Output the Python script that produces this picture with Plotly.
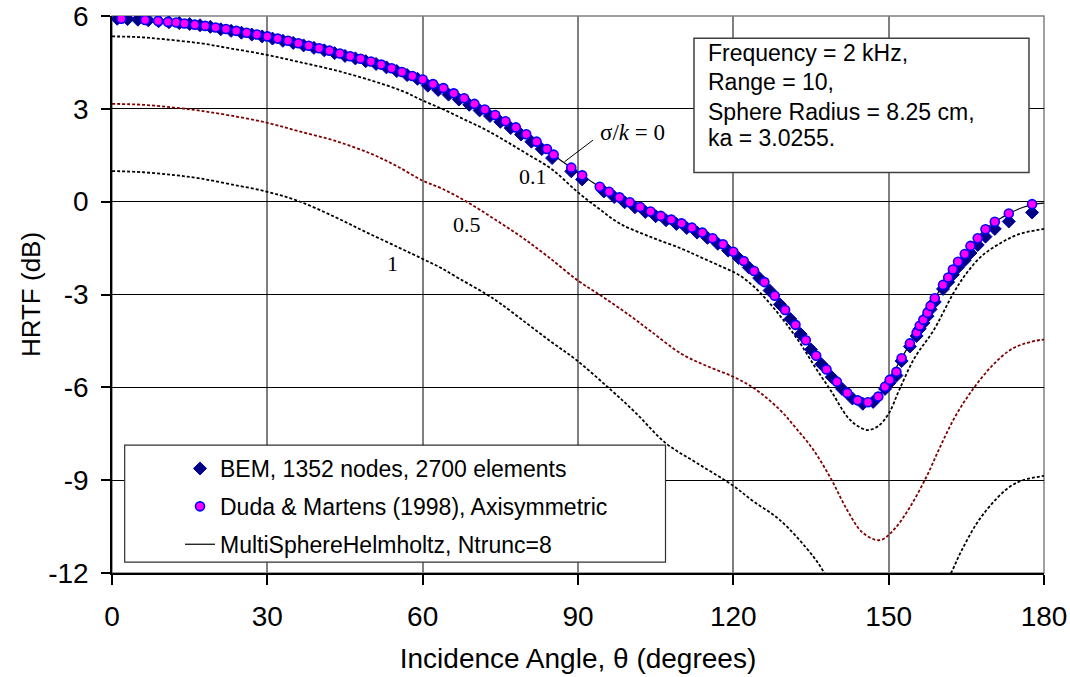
import plotly.graph_objects as go

# ---------------- data ----------------
# MultiSphereHelmholtz, Ntrunc=8  (sigma/k = 0), solid black line
msh_theta = list(range(0, 181, 2))
msh_hrtf = [5.92, 5.91, 5.89, 5.87, 5.85, 5.82, 5.79, 5.76, 5.72, 5.68,
            5.63, 5.58, 5.52, 5.46, 5.40, 5.34, 5.27, 5.20, 5.12, 5.04,
            4.96, 4.88, 4.79, 4.70, 4.62, 4.53, 4.43, 4.31, 4.19, 4.06,
            3.95, 3.80, 3.67, 3.50, 3.34, 3.16, 2.98, 2.80, 2.60, 2.40,
            2.18, 1.94, 1.70, 1.42, 1.18, 0.93, 0.72, 0.50, 0.32, 0.14,
            -0.02, -0.17, -0.32, -0.46, -0.58, -0.70, -0.84, -1.00, -1.18, -1.38,
            -1.62, -1.92, -2.24, -2.60, -3.04, -3.50, -3.98, -4.48, -4.98, -5.42,
            -5.82, -6.18, -6.42, -6.48, -6.30, -5.80, -5.20, -4.62, -4.02, -3.40,
            -2.82, -2.30, -1.84, -1.40, -1.00, -0.71, -0.50, -0.32, -0.18, -0.09,
            -0.05]

# Duda & Martens (1998), Axisymmetric (circles)
duda_theta = [1.8, 6.4, 8.9, 10.8, 12.4, 14, 16, 18, 20, 22, 24, 26, 28, 30, 32, 34, 36, 38, 40,
              42, 44, 46, 48, 50, 52, 54, 56, 58, 60, 62, 64, 66, 68, 70, 72, 74, 76, 78, 80,
              82, 84, 85.3, 88.7, 90.8, 94.2, 96, 98, 100, 102, 104, 106, 108, 110, 112, 114,
              116, 118, 120, 122, 124, 126, 128, 130, 132, 134, 136, 138, 140, 142, 144, 146,
              148, 149.3, 150.2, 151.5, 152.5, 154.1, 155.4, 156.0, 156.7, 157.5, 158.1, 158.9,
              160.5, 161.5, 162.4, 163.4, 164.7, 165.8, 167.2, 168.7, 170.5, 173.2, 177.7]
duda_hrtf = [5.91, 5.87, 5.84, 5.81, 5.79, 5.76, 5.72, 5.68, 5.63, 5.58, 5.52, 5.46, 5.40,
             5.34, 5.27, 5.20, 5.12, 5.04, 4.96, 4.88, 4.79, 4.70, 4.62, 4.53, 4.43, 4.31, 4.19,
             4.06, 3.95, 3.80, 3.67, 3.50, 3.34, 3.16, 2.98, 2.80, 2.60, 2.40, 2.18, 1.94, 1.70,
             1.52, 1.10, 0.85, 0.48, 0.32, 0.14, -0.02, -0.17, -0.32, -0.46, -0.58, -0.70, -0.84,
             -1.00, -1.18, -1.38, -1.62, -1.92, -2.24, -2.60, -3.04, -3.50, -3.98, -4.48, -4.98,
             -5.42, -5.82, -6.18, -6.42, -6.48, -6.30, -5.98, -5.76, -5.50, -5.06, -4.58, -4.24,
             -4.01, -3.82, -3.59, -3.37, -3.12, -2.69, -2.45, -2.19, -1.94, -1.69, -1.43, -1.18,
             -0.89, -0.65, -0.38, -0.08]

# BEM, 1352 nodes, 2700 elements (diamonds)
bem_theta = [1, 3, 5, 7, 9, 11, 13, 15, 17, 19, 21, 23, 25, 27, 29, 31, 33, 35, 37, 39,
             41, 43, 45, 47, 49, 51, 53, 55, 57, 59, 61, 63, 65, 67, 69, 71, 73, 75, 77, 79,
             81, 83, 85, 88.7, 90.8, 95, 97, 99, 101, 103, 105, 107, 109, 111, 113, 115, 117,
             119, 121, 123, 125, 127, 129, 131, 133, 135, 137, 139, 141, 143, 145, 147,
             149.3, 150.2, 151.5, 152.5, 154.1, 155.4, 156.0, 156.7, 157.5, 158.1, 158.9,
             160.5, 161.5, 162.4, 163.4, 164.7, 165.8, 167.2, 168.7, 170.5, 173.2, 177.7]
bem_hrtf = [5.91, 5.90, 5.88, 5.86, 5.83, 5.80, 5.77, 5.74, 5.70, 5.65, 5.57, 5.52, 5.46, 5.40,
            5.34, 5.27, 5.20, 5.13, 5.05, 4.97, 4.89, 4.80, 4.71, 4.63, 4.54, 4.45, 4.34, 4.22,
            4.09, 3.97, 3.75, 3.61, 3.46, 3.30, 3.13, 2.95, 2.77, 2.58, 2.38, 2.17, 1.94, 1.70,
            1.41, 0.98, 0.72, 0.33, 0.15, -0.02, -0.18, -0.33, -0.47, -0.60, -0.72, -0.85, -1.00,
            -1.17, -1.36, -1.58, -1.82, -2.13, -2.47, -2.87, -3.32, -3.79, -4.28, -4.78, -5.25,
            -5.67, -6.05, -6.36, -6.53, -6.47, -6.05, -5.85, -5.62, -5.15, -4.68, -4.34, -4.11,
            -3.92, -3.70, -3.48, -3.24, -2.82, -2.60, -2.36, -2.12, -1.89, -1.66, -1.40, -1.13,
            -0.88, -0.64, -0.35]

# sigma/k = 0.1 (black dashed)
s01_theta = [0, 5, 10, 17, 23, 30, 36, 43, 50, 56, 60, 64, 68, 72, 76, 80, 85, 90, 94, 98,
             104, 110, 114, 118, 121, 124, 127, 130, 133, 136, 139, 142, 144, 146, 148, 150,
             152, 155, 158.7, 162.5, 165, 168, 171.5, 175, 180]
s01_hrtf = [5.34, 5.32, 5.25, 5.12, 4.95, 4.74, 4.52, 4.25, 3.92, 3.58, 3.27, 2.98, 2.66, 2.34,
            1.96, 1.56, 1.04, 0.30, -0.22, -0.70, -1.14, -1.52, -1.82, -2.12, -2.36, -2.75,
            -3.28, -3.90, -4.60, -5.40, -6.15, -6.95, -7.25, -7.38, -7.25, -6.85, -6.10, -5.05,
            -4.15, -2.96, -2.32, -1.75, -1.35, -1.06, -0.88]

# sigma/k = 0.5 (dark red dashed)
s05_theta = [0, 6, 12, 17, 23, 30, 36, 43, 50, 55, 60, 64, 69, 74, 79, 84, 90, 95, 100, 104,
             110, 115, 120, 124, 129, 132, 135.5, 139, 142, 145, 148.3, 151, 154, 157.3, 160,
             163, 166.4, 170, 173.4, 176, 179.2, 180]
s05_hrtf = [3.16, 3.13, 3.04, 2.94, 2.78, 2.55, 2.28, 1.97, 1.55, 1.15, 0.68, 0.40, -0.05, -0.58,
            -1.13, -1.75, -2.55, -3.10, -3.68, -4.18, -4.92, -5.32, -5.66, -6.03, -6.73, -7.30,
            -8.03, -9.00, -9.97, -10.70, -10.94, -10.60, -9.90, -8.89, -7.90, -6.90, -6.03,
            -5.30, -4.80, -4.60, -4.47, -4.46]

# sigma/k = 1 (black dashed)
s1_theta = [0, 6, 12, 17, 23, 30, 36, 43, 49, 55.6, 60, 63.3, 67, 72, 75, 80, 85, 89.7, 96,
            101, 107, 113, 119.8, 124, 129, 135.5, 138, 142, 146, 150, 154, 158, 161.8, 164,
            167, 170, 173.4, 176, 180]
s1_hrtf = [0.99, 0.95, 0.86, 0.75, 0.56, 0.32, 0.02, -0.49, -0.98, -1.50, -1.85, -2.12, -2.48,
           -2.96, -3.29, -3.92, -4.55, -5.12, -6.03, -6.80, -7.81, -8.45, -9.16, -9.70, -10.29,
           -11.48, -12.12, -13.30, -14.20, -14.50, -14.00, -13.00, -12.07, -11.30, -10.40,
           -9.75, -9.21, -9.00, -8.86]

sigma_labels = ["0.1", "0.5", "1"]
info_lines = ["Frequency = 2 kHz,", "Range = 10,", "Sphere Radius = 8.25 cm,", "ka = 3.0255."]
x_ticks = [0, 30, 60, 90, 120, 150, 180]
y_ticks = [-12, -9, -6, -3, 0, 3, 6]
y_ticktext = ["-12", "-9", "-6", "-3", "0", "3", "6"]

SANS = "Liberation Sans, Arial, sans-serif"
SERIF = "Liberation Serif, Times New Roman, serif"

fig = go.Figure()

dash = "3px,2px"
fig.add_trace(go.Scatter(x=s1_theta, y=s1_hrtf, mode="lines", line=dict(color="black", width=1.8, dash=dash, shape="spline"),
                         showlegend=False, hoverinfo="skip"))
fig.add_trace(go.Scatter(x=s05_theta, y=s05_hrtf, mode="lines", line=dict(color="#800000", width=1.8, dash=dash, shape="spline"),
                         showlegend=False, hoverinfo="skip"))
fig.add_trace(go.Scatter(x=s01_theta, y=s01_hrtf, mode="lines", line=dict(color="black", width=1.8, dash=dash, shape="spline"),
                         showlegend=False, hoverinfo="skip"))
fig.add_trace(go.Scatter(x=msh_theta, y=msh_hrtf, mode="lines", name="MultiSphereHelmholtz, Ntrunc=8",
                         line=dict(color="black", width=1.2, shape="spline"), legendrank=3, legendgroup="c"))
fig.add_trace(go.Scatter(x=bem_theta, y=bem_hrtf, mode="markers", name="BEM, 1352 nodes, 2700 elements",
                         marker=dict(symbol="diamond", size=10, color="#000080", line=dict(color="#0000C0", width=1)),
                         legendrank=1, legendgroup="a"))
fig.add_trace(go.Scatter(x=duda_theta, y=duda_hrtf, mode="markers", name="Duda & Martens (1998), Axisymmetric",
                         marker=dict(symbol="circle", size=9, color="#FF00FF", line=dict(color="#0000FF", width=1.6)),
                         legendrank=2, legendgroup="b"))

# sigma/k labels
label_pos = [(81.3, 0.81), (68.5, -0.75), (54.1, -1.99)]
for txt, (lx, ly) in zip(sigma_labels, label_pos):
    fig.add_annotation(x=lx, y=ly, text=txt, showarrow=False, font=dict(family=SERIF, size=22, color="black"))
fig.add_annotation(x=100.5, y=2.23, text="σ/<i>k</i> = 0", showarrow=False,
                   font=dict(family=SERIF, size=23, color="black"))
fig.add_shape(type="line", x0=87.4, y0=1.29, x1=92.9, y1=1.99, xref="x", yref="y",
              line=dict(color="black", width=1))

# info box
fig.add_shape(type="rect", x0=112.4, x1=177.1, y0=0.94, y1=5.28, xref="x", yref="y",
              line=dict(color="#404040", width=1.5), fillcolor="white", layer="above")
info_y = [4.80, 3.88, 2.91, 2.05]
for txt, iy in zip(info_lines, info_y):
    fig.add_annotation(x=114.7, y=iy, text=txt, showarrow=False, xanchor="left", yanchor="middle",
                       font=dict(family=SANS, size=23, color="black"))

# legend box (drawn as shape, legend itself transparent on top)
fig.add_shape(type="rect", x0=2.45, x1=106.9, y0=-11.65, y1=-7.87, xref="x", yref="y",
              line=dict(color="#303030", width=1.2), fillcolor="white", layer="above")

# plot-area border (gray), between gridlines and traces
fig.add_shape(type="rect", x0=0, x1=1, y0=0, y1=1, xref="paper", yref="paper",
              line=dict(color="#808080", width=1.5), layer="between")

fig.update_layout(
    width=1070, height=677,
    margin=dict(l=112, r=26, t=16, b=104, autoexpand=False),
    paper_bgcolor="white", plot_bgcolor="white",
    font=dict(family=SANS, size=28, color="black"),
    showlegend=True,
    legend=dict(x=(180 - 112) / 932, y=(573 - 447) / 557, xanchor="left", yanchor="top",
                bgcolor="rgba(0,0,0,0)", borderwidth=0, font=dict(family=SANS, size=23),
                tracegroupgap=5, traceorder="grouped"),
    xaxis=dict(range=[0, 180], tickvals=x_ticks, ticks="outside", ticklen=10, tickwidth=1.5, tickcolor="black",
               showgrid=True, gridcolor="#808080", gridwidth=1.5, zeroline=False, automargin=False,
               showline=True, linecolor="black", linewidth=1.5,
               tickfont=dict(size=28), ticklabelstandoff=8,
               title=dict(text="Incidence Angle, θ (degrees)", font=dict(size=28), standoff=17)),
    yaxis=dict(range=[-12, 6], tickvals=y_ticks, ticktext=y_ticktext, ticks="outside", ticklen=9,
               tickwidth=1.5, tickcolor="black", automargin=False,
               showgrid=True, gridcolor="black", gridwidth=1, zeroline=False,
               showline=True, linecolor="black", linewidth=1.5,
               tickfont=dict(size=28), ticklabelstandoff=7,
               title=dict(text="HRTF (dB)", font=dict(size=26), standoff=0)),
)

fig.write_html("out.html")
